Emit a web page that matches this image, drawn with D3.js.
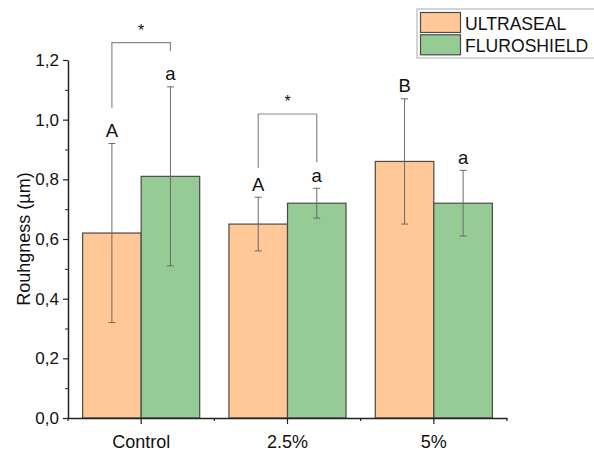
<!DOCTYPE html>
<html>
<head>
<meta charset="utf-8">
<script src="https://cdn.jsdelivr.net/npm/d3@7"></script>
<style>
  body { margin: 0; background: #fff; }
  text { font-family: Arial, "Liberation Sans", sans-serif; }
</style>
</head>
<body>
<svg id="chart" width="594" height="452"></svg>
<script>
// data
var categories = ["Control", "2.5%", "5%"];
var seriesNames = ["ULTRASEAL", "FLUROSHIELD"];
var ultrasealMean = [0.62, 0.65, 0.86];
var ultrasealErr = [0.30, 0.09, 0.21];
var fluroshieldMean = [0.81, 0.72, 0.72];
var fluroshieldErr = [0.30, 0.05, 0.11];
var ultrasealLetters = ["A", "A", "B"];
var fluroshieldLetters = ["a", "a", "a"];
var yTicks = [0, 0.2, 0.4, 0.6, 0.8, 1.0, 1.2];
var yMinorTicks = [0.1, 0.3, 0.5, 0.7, 0.9, 1.1];
// significance brackets: category, bracket top, left leg end, right leg end
var brackets = [
  { cat: "Control", top: 1.258, left: 1.04, right: 1.23 },
  { cat: "2.5%", top: 1.019, left: 0.838, right: 0.857 }
];

var colors = ["#ffc896", "#96cb96"];

var svg = d3.select("#chart");
var margin = { top: 60, left: 68, right: 87, bottom: 34 };
var width = 594 - margin.left - margin.right;
var height = 452 - margin.top - margin.bottom;

var g = svg.append("g")
  .attr("transform", "translate(" + margin.left + "," + margin.top + ")");

var x0 = d3.scaleBand().domain(categories).range([0, width])
  .paddingInner(0.2).paddingOuter(0.1);
var x1 = d3.scaleBand().domain(seriesNames).range([0, x0.bandwidth()]);
var y = d3.scaleLinear().domain([0, 1.2]).range([height, 0]);

var locale = d3.formatLocale({ decimal: ",", thousands: ".", grouping: [3], currency: ["", ""] });
var fmt = locale.format(".1f");

var rows = categories.map(function (c, i) {
  return [
    { cat: c, s: seriesNames[0], v: ultrasealMean[i], e: ultrasealErr[i], lab: ultrasealLetters[i], col: colors[0] },
    { cat: c, s: seriesNames[1], v: fluroshieldMean[i], e: fluroshieldErr[i], lab: fluroshieldLetters[i], col: colors[1] }
  ];
});
var flat = [].concat.apply([], rows);

function cx(d) { return x0(d.cat) + x1(d.s) + x1.bandwidth() / 2; }

// bars
g.selectAll(".bar")
  .data(flat)
  .enter().append("rect")
  .attr("class", "bar")
  .attr("x", function (d) { return x0(d.cat) + x1(d.s); })
  .attr("y", function (d) { return y(d.v); })
  .attr("width", x1.bandwidth())
  .attr("height", function (d) { return height - y(d.v); })
  .attr("fill", function (d) { return d.col; })
  .attr("stroke", "#4a4a4a")
  .attr("stroke-width", 1.2);

// error bars
var eb = g.selectAll(".err").data(flat).enter().append("g").attr("class", "err")
  .attr("stroke", "#6a6a6a").attr("stroke-width", 1);
eb.append("line")
  .attr("x1", cx).attr("x2", cx)
  .attr("y1", function (d) { return y(d.v + d.e); })
  .attr("y2", function (d) { return y(d.v - d.e); });
eb.append("line")
  .attr("x1", function (d) { return cx(d) - 3.5; }).attr("x2", function (d) { return cx(d) + 3.5; })
  .attr("y1", function (d) { return y(d.v + d.e); })
  .attr("y2", function (d) { return y(d.v + d.e); });
eb.append("line")
  .attr("x1", function (d) { return cx(d) - 3.5; }).attr("x2", function (d) { return cx(d) + 3.5; })
  .attr("y1", function (d) { return y(d.v - d.e); })
  .attr("y2", function (d) { return y(d.v - d.e); });

// letters
g.selectAll(".lab").data(flat).enter().append("text")
  .attr("x", cx)
  .attr("y", function (d) { return y(d.v + d.e) - 13; })
  .attr("text-anchor", "middle")
  .attr("dominant-baseline", "central")
  .attr("font-size", 18.5)
  .attr("fill", "#111")
  .text(function (d) { return d.lab; });

// brackets
brackets.forEach(function (b) {
  var xl = x0(b.cat) + x1(seriesNames[0]) + x1.bandwidth() / 2;
  var xr = x0(b.cat) + x1(seriesNames[1]) + x1.bandwidth() / 2;
  g.append("path")
    .attr("d", "M" + xl + "," + y(b.left) + "V" + y(b.top) + "H" + xr + "V" + y(b.right))
    .attr("fill", "none").attr("stroke", "#8a8a8a").attr("stroke-width", 1.2);
  g.append("text")
    .attr("x", (xl + xr) / 2).attr("y", y(b.top) - 7)
    .attr("text-anchor", "middle")
    .attr("font-size", 16)
    .attr("fill", "#111")
    .text("*");
});

// y axis
var yAxis = g.append("g")
  .call(d3.axisLeft(y).tickValues(yTicks).tickFormat(fmt).tickSize(5).tickSizeOuter(0).tickPadding(4));
g.append("g")
  .call(d3.axisLeft(y).tickValues(yMinorTicks).tickFormat("").tickSize(3).tickSizeOuter(0))
  .select(".domain").remove();

// x axis
var xAxis = g.append("g")
  .attr("transform", "translate(0," + height + ")")
  .call(d3.axisBottom(x0).tickSize(6).tickSizeOuter(0).tickPadding(10));
var bounds = d3.range(categories.length + 1).map(function (i) { return i * x0.step(); });
g.append("g")
  .attr("transform", "translate(0," + height + ")")
  .selectAll("line").data(bounds).enter().append("line")
  .attr("x1", function (d) { return d; }).attr("x2", function (d) { return d; })
  .attr("y1", 0).attr("y2", 3)
  .attr("stroke", "#222").attr("stroke-width", 1.2);

[yAxis, xAxis].forEach(function (a) {
  a.select(".domain").attr("stroke", "#222").attr("stroke-width", 1.5);
  a.selectAll(".tick line").attr("stroke", "#222").attr("stroke-width", 1.2);
  a.selectAll("text").attr("font-family", "Arial, 'Liberation Sans', sans-serif").attr("fill", "#111");
});
yAxis.selectAll("text").attr("font-size", 17);
xAxis.selectAll("text").attr("font-size", 18).attr("dy", "0.75em");
g.selectAll(".tick line").attr("stroke", "#222");

// y title
svg.append("text")
  .attr("transform", "translate(30," + (margin.top + height / 2) + ") rotate(-90)")
  .attr("text-anchor", "middle")
  .attr("font-size", 18)
  .attr("fill", "#111")
  .text("Rouhgness (µm)");

// legend
var legend = svg.append("g").attr("transform", "translate(417,9)");
legend.append("rect")
  .attr("x", 0).attr("y", 0).attr("width", 190).attr("height", 49)
  .attr("fill", "#fff").attr("stroke", "#aaa").attr("stroke-width", 1);
seriesNames.forEach(function (s, i) {
  legend.append("rect")
    .attr("x", 3.5).attr("y", 3.5 + i * 22.3).attr("width", 40).attr("height", 20)
    .attr("fill", colors[i]).attr("stroke", "#4a4a4a").attr("stroke-width", 1.2);
  legend.append("text")
    .attr("x", 48).attr("y", 20.5 + i * 22.3)
    .attr("font-size", 17.6)
    .attr("fill", "#111")
    .text(s);
});
</script>
</body>
</html>
